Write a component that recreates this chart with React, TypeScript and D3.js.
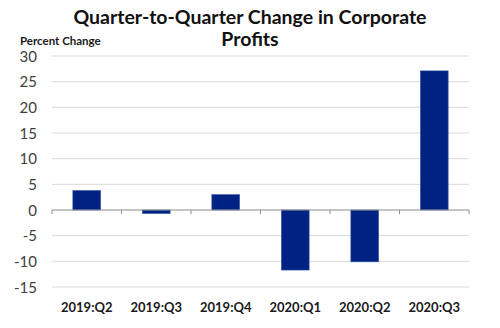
import React from "react";
import * as d3 from "d3";

const categories = ["2019:Q2", "2019:Q3", "2019:Q4", "2020:Q1", "2020:Q2", "2020:Q3"];
const values = [3.8, -0.7, 3.0, -11.7, -10.1, 27.1];
const yTicks = [30, 25, 20, 15, 10, 5, 0, -5, -10, -15];

export default function App() {
  const W = 500, H = 328;
  const left = 52, right = 469, top = 56, bottom = 287;
  const x = d3.scaleBand<string>().domain(categories).range([left, right]).paddingInner(0.6).paddingOuter(0.3);
  const xb = d3.scaleBand<string>().domain(categories).range([left, right]);
  const y = d3.scaleLinear().domain([-15, 30]).range([bottom, top]);
  const font = "Lato, 'Open Sans', sans-serif";
  return (
    <svg width={W} height={H} style={{ position: "absolute", left: 0, top: 0, background: "#fff" }}>
      <text x={250} y={24} textAnchor="middle" fontFamily={font} fontWeight={700} fontSize={19.5} fill="#111">
        Quarter-to-Quarter Change in Corporate
      </text>
      <text x={250} y={46} textAnchor="middle" fontFamily={font} fontWeight={700} fontSize={19.5} fill="#111">
        Profits
      </text>
      <text x={20} y={45} fontFamily={font} fontWeight={700} fontSize={11.5} fill="#1a1a1a">Percent Change</text>
      {yTicks.map((t) => (
        <g key={t}>
          {t !== 0 && <line x1={left} x2={right} y1={y(t)} y2={y(t)} stroke="#d9d9d9" strokeWidth={1} />}
          <text x={37} y={y(t) + 5.5} textAnchor="end" fontFamily={font} fontSize={15} fill="#404040">{t}</text>
        </g>
      ))}
      {categories.map((c, i) => {
        const v = values[i];
        return (
          <rect key={c} x={x(c)} width={x.bandwidth()} y={y(Math.max(0, v))} height={Math.abs(y(v) - y(0))}
            fill="#002383" stroke="#3a5aa8" strokeWidth={0.6} />
        );
      })}
      <line x1={left} x2={right} y1={y(0)} y2={y(0)} stroke="#8c8c8c" strokeWidth={1.2} />
      {[...categories.map((c) => xb(c) as number), right].map((px, i) => (
        <line key={i} x1={px} x2={px} y1={y(0)} y2={y(0) + 4} stroke="#8c8c8c" strokeWidth={1} />
      ))}
      {categories.map((c) => (
        <text key={c} x={(xb(c) as number) + xb.bandwidth() / 2} y={312} textAnchor="middle" fontFamily={font} fontWeight={700} fontSize={13} fill="#1a1a1a">{c}</text>
      ))}
    </svg>
  );
}
